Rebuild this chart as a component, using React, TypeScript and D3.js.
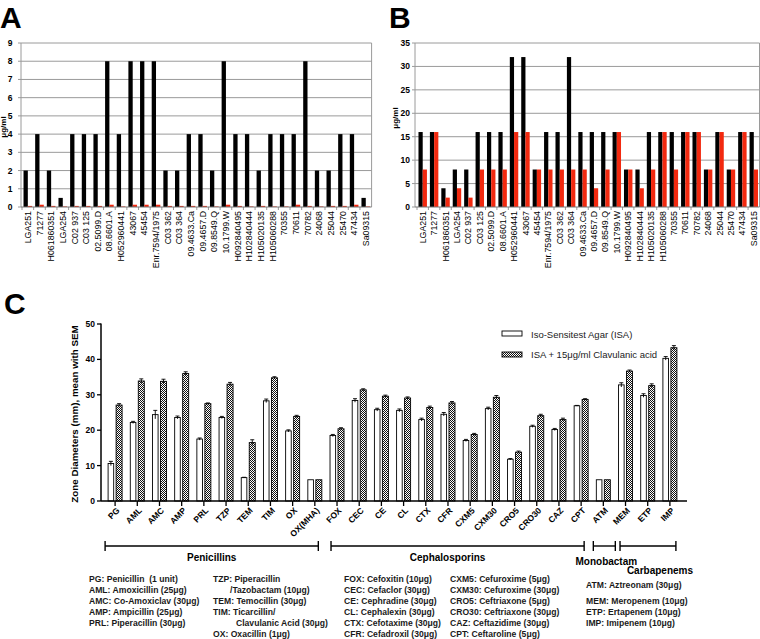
import React from 'react';
import * as d3 from 'd3';

const strains = ['LGA251','71277','H061860351','LGA254','C02 937','C03 125','02.5099.D','08.6601.A','H052960441','43067','45454','Enr.7594/1975','C03 362','C03 364','09.4633.Ca','09.4657.D','09.8549.Q','10.1799.W','H092840495','H102840444','H105020135','H105060288','70355','70611','70782','24068','25044','25470','47434','Sa09315'];
const micA_black = [2,4,2,0.5,4,4,4,8,4,8,8,8,2,2,4,4,2,8,4,4,2,4,4,4,8,2,2,4,4,0.5];
const micA_red = [0.06,0.125,0.06,0.03,0.06,0.06,0.06,0.125,0.03,0.125,0.125,0.125,0.06,0.06,0.06,0.06,0.03,0.125,0.06,0.03,0.06,0.03,0.03,0.125,0.06,0.03,0.06,0.06,0.125,0.03];
const micB_black = [16,16,4,8,8,16,16,16,32,32,8,16,16,32,16,16,16,16,8,8,16,16,16,16,16,8,16,8,16,16];
const micB_red = [8,16,2,4,2,8,8,8,16,16,8,8,8,8,8,4,8,16,8,4,8,16,8,16,16,8,16,8,16,8];
const ticksA = [0,1,2,3,4,5,6,7,8,9];
const ticksB = [0,5,10,15,20,25,30,35];

const drugs = ['PG','AML','AMC','AMP','PRL','TZP','TEM','TIM','OX','OX(MHA)','FOX','CEC','CE','CL','CTX','CFR','CXM5','CXM30','CRO5','CRO30','CAZ','CPT','ATM','MEM','ETP','IMP'];
const isaMean = [10.6,22.2,24.4,23.6,17.5,23.6,6.6,28.3,19.8,6,18.5,28.4,25.8,25.6,23.0,24.5,17.1,26.1,11.8,21.1,20.2,26.9,6,32.8,29.8,40.3];
const isaSem = [0.6,0.3,1.2,0.4,0.3,0.3,0.1,0.5,0.3,0,0.3,0.5,0.4,0.4,0.4,0.5,0.3,0.4,0.2,0.3,0.3,0.1,0,0.6,0.5,0.5];
const clavMean = [27.1,33.9,33.8,36.0,27.5,33.0,16.5,34.8,23.9,6,20.4,31.4,29.6,29.1,26.4,27.7,18.8,29.3,13.8,24.1,23.0,28.7,6,36.7,32.6,43.3];
const clavSem = [0.4,0.6,0.6,0.5,0.2,0.5,0.8,0.3,0.3,0,0.3,0.3,0.3,0.3,0.4,0.4,0.3,0.5,0.3,0.4,0.4,0.2,0,0.3,0.5,0.6];
const ticksC = [0,10,20,30,40,50];
const legendC = ['Iso-Sensitest Agar (ISA)','ISA + 15\u03bcg/ml Clavulanic acid'];
const classNames = ['Penicillins','Cephalosporins','Monobactam','Carbapenems'];
const classFirst = ['PG','FOX','ATM','MEM'];
const classLast = ['OX(MHA)','CPT','ATM','IMP'];

const key1 = ['PG: Penicillin\u00a0\u00a0(1 unit)','AML: Amoxicillin (25\u03bcg)','AMC: Co-Amoxiclav (30\u03bcg)','AMP: Ampicillin (25\u03bcg)','PRL: Piperacillin (30\u03bcg)'];
const key2 = ['TZP: Piperacillin','/Tazobactam (10\u03bcg)','TEM: Temocillin (30\u03bcg)','TIM: Ticarcillin/','Clavulanic Acid (30\u03bcg)','OX: Oxacillin (1\u03bcg)'];
const key3 = ['FOX: Cefoxitin (10\u03bcg)','CEC: Cefaclor (30\u03bcg)','CE: Cephradine (30\u03bcg)','CL: Cephalexin (30\u03bcg)','CTX: Cefotaxime (30\u03bcg)','CFR: Cefadroxil (30\u03bcg)'];
const key4 = ['CXM5: Cefuroxime (5\u03bcg)','CXM30: Cefuroxime (30\u03bcg)','CRO5: Ceftriaxone (5\u03bcg)','CRO30: Ceftriaxone (30\u03bcg)','CAZ: Ceftazidime (30\u03bcg)','CPT: Ceftaroline (5\u03bcg)'];
const key5 = ['ATM: Aztreonam (30\u03bcg)','','MEM: Meropenem (10\u03bcg)','ETP: Ertapenem (10\u03bcg)','IMP: Imipenem (10\u03bcg)'];

const FONT = 'Liberation Sans, Arial, Helvetica, sans-serif';
const RED = '#f2290f';
const GRID = '#9a9a9a';

function MicPanel({ axisLeft, left, right, top, bottom, max, ticks, black, red, tickLabelX, unitX, unitY }) {
  const x = d3.scaleBand().domain(strains).range([left, right]);
  const y = d3.scaleLinear().domain([0, max]).range([bottom, top]);
  const bw = x.bandwidth() * 0.37;
  return (
    <g fontFamily={FONT}>
      {ticks.filter(t => t > 0).map(t => (
        <line key={'g' + t} x1={axisLeft} x2={right} y1={y(t)} y2={y(t)} stroke={GRID} strokeWidth={1} />
      ))}
      <line x1={axisLeft} x2={axisLeft} y1={top} y2={bottom} stroke={GRID} />
      <line x1={right} x2={right} y1={top} y2={bottom} stroke={GRID} />
      {ticks.map(t => (
        <g key={'t' + t}>
          <line x1={axisLeft - 3} x2={axisLeft} y1={y(t)} y2={y(t)} stroke={GRID} />
          <text x={tickLabelX} y={y(t)} dy="0.35em" textAnchor="end" fontSize={8.5} fontWeight="bold">{t}</text>
        </g>
      ))}
      {strains.map((s, i) => {
        const c = (x(s) as number) + x.bandwidth() / 2;
        return (
          <g key={s}>
            <rect x={c - bw} y={y(black[i])} width={bw} height={bottom - y(black[i])} fill="#000" />
            <rect x={c} y={y(red[i])} width={bw} height={bottom - y(red[i])} fill={RED} />
            <line x1={(x(s) as number)} x2={(x(s) as number)} y1={bottom} y2={bottom + 3} stroke={GRID} />
            <text transform={`translate(${c},${bottom + 4}) rotate(-90)`} dy="0.35em" textAnchor="end" fontSize={8.8}>{s}</text>
          </g>
        );
      })}
      <line x1={axisLeft} x2={right} y1={bottom} y2={bottom} stroke="#777" />
      <text transform={`translate(${unitX},${unitY}) rotate(-90)`} textAnchor="middle" fontSize={8} fontWeight="bold">μg/ml</text>
    </g>
  );
}

function DiscPanel() {
  const x = d3.scaleBand().domain(drugs).range([104, 681]);
  const y = d3.scaleLinear().domain([0, 50]).range([501, 324]);
  const cx = (d) => (x(d) as number) + x.bandwidth() / 2;
  const bracketPad = [[-10, 3.5], [-6, 3], [-10, 12], [-5.5, 6]];
  const labelShift = [0, -10, 2, 12];
  const labelY = [561, 561, 565, 574];
  return (
    <g fontFamily={FONT}>
      <defs>
        <pattern id="hatch" width="2" height="2" patternUnits="userSpaceOnUse">
          <rect width="2" height="2" fill="#fff" />
          <rect width="1" height="1" fill="#111" />
          <rect x="1" y="1" width="1" height="1" fill="#111" />
        </pattern>
      </defs>
      {drugs.map((d, i) => {
        const c = cx(d);
        return (
          <g key={d}>
            <rect x={c - 7} y={y(isaMean[i])} width={5.6} height={501 - y(isaMean[i])} fill="#fff" stroke="#000" strokeWidth={0.9} />
            <rect x={c + 1} y={y(clavMean[i])} width={6} height={501 - y(clavMean[i])} fill="url(#hatch)" stroke="#000" strokeWidth={0.9} />
            {isaSem[i] > 0 && (
              <g stroke="#000" strokeWidth={0.9}>
                <line x1={c - 4.2} x2={c - 4.2} y1={y(isaMean[i] - isaSem[i])} y2={y(isaMean[i] + isaSem[i])} />
                <line x1={c - 6.2} x2={c - 2.2} y1={y(isaMean[i] + isaSem[i])} y2={y(isaMean[i] + isaSem[i])} />
              </g>
            )}
            {clavSem[i] > 0 && (
              <g stroke="#000" strokeWidth={0.9}>
                <line x1={c + 4} x2={c + 4} y1={y(clavMean[i] - clavSem[i])} y2={y(clavMean[i] + clavSem[i])} />
                <line x1={c + 2} x2={c + 6} y1={y(clavMean[i] + clavSem[i])} y2={y(clavMean[i] + clavSem[i])} />
              </g>
            )}
            <line x1={c} x2={c} y1={501} y2={506} stroke="#000" strokeWidth={1.3} />
            <text transform={`translate(${c + 3},${509}) rotate(-45)`} dy="0.35em" textAnchor="end" fontSize={8.5} fontWeight="bold">{d}</text>
          </g>
        );
      })}
      <line x1={101} x2={101} y1={323.5} y2={501} stroke="#000" strokeWidth={1.5} />
      <line x1={101} x2={687} y1={501} y2={501} stroke="#000" strokeWidth={1.5} />
      {ticksC.map(t => (
        <g key={t}>
          <line x1={97} x2={101} y1={y(t)} y2={y(t)} stroke="#000" strokeWidth={1.3} />
          <text x={95} y={y(t)} dy="0.35em" textAnchor="end" fontSize={8.5} fontWeight="bold">{t}</text>
        </g>
      ))}
      <text transform={`translate(78,${414}) rotate(-90)`} textAnchor="middle" fontSize={9.8} fontWeight="bold">Zone Diameters (mm), mean with SEM</text>
      <rect x={502} y={331} width={20} height={5} fill="#fff" stroke="#000" strokeWidth={0.9} />
      <rect x={502} y={352} width={20} height={5} fill="url(#hatch)" stroke="#000" strokeWidth={0.9} />
      <text x={531} y={337.5} fontSize={9.5} fill="#222">{legendC[0]}</text>
      <text x={531} y={358} fontSize={9.5} fill="#222">{legendC[1]}</text>
      {classNames.map((n, i) => {
        const x1 = cx(classFirst[i]) + bracketPad[i][0];
        const x2 = cx(classLast[i]) + bracketPad[i][1];
        return (
          <g key={n}>
            <g stroke="#000" strokeWidth={1.4}>
              <line x1={x1} x2={x2} y1={546} y2={546} />
              <line x1={x1} x2={x1} y1={541} y2={551} />
              <line x1={x2} x2={x2} y1={541} y2={551} />
            </g>
            <text x={(x1 + x2) / 2 + labelShift[i]} y={labelY[i]} textAnchor="middle" fontSize={10} fontWeight="bold">{n}</text>
          </g>
        );
      })}
    </g>
  );
}

function KeyText() {
  const rows = [582, 593, 603.5, 614.5, 625.5, 636.5];
  const fs = 8.6;
  const col2Indent = [0, 17, 0, 0, 23, 0];
  return (
    <g fontFamily={FONT} fontSize={fs} fontWeight="bold" fill="#1a1a1a">
      {key1.map((t, i) => <text key={'a' + i} x={89} y={rows[i]}>{t}</text>)}
      {key2.map((t, i) => <text key={'b' + i} x={213 + col2Indent[i]} y={rows[i]}>{t}</text>)}
      {key3.map((t, i) => <text key={'c' + i} x={344} y={rows[i]}>{t}</text>)}
      {key4.map((t, i) => <text key={'d' + i} x={450} y={rows[i]}>{t}</text>)}
      {key5.map((t, i) => t ? <text key={'e' + i} x={586} y={i === 0 ? 587.5 : rows[i]}>{t}</text> : null)}
    </g>
  );
}

export default function App() {
  return (
    <svg width={760} height={639} style={{ position: 'absolute', left: 0, top: 0, background: '#fff' }} xmlns="http://www.w3.org/2000/svg">
      <rect width={760} height={639} fill="#fff" />
      <g fontFamily={FONT} fontWeight="bold" fontSize={30}>
        <text x={0} y={28}>A</text>
        <text x={389} y={28}>B</text>
        <text x={4} y={314}>C</text>
      </g>
      <MicPanel axisLeft={21} left={22} right={371.6} top={43} bottom={207} max={9} ticks={ticksA} black={micA_black} red={micA_red} tickLabelX={12.5} unitX={5.5} unitY={127} />
      <MicPanel axisLeft={415} left={417} right={759.5} top={43} bottom={207} max={35} ticks={ticksB} black={micB_black} red={micB_red} tickLabelX={410} unitX={398} unitY={118} />
      <DiscPanel />
      <KeyText />
    </svg>
  );
}
